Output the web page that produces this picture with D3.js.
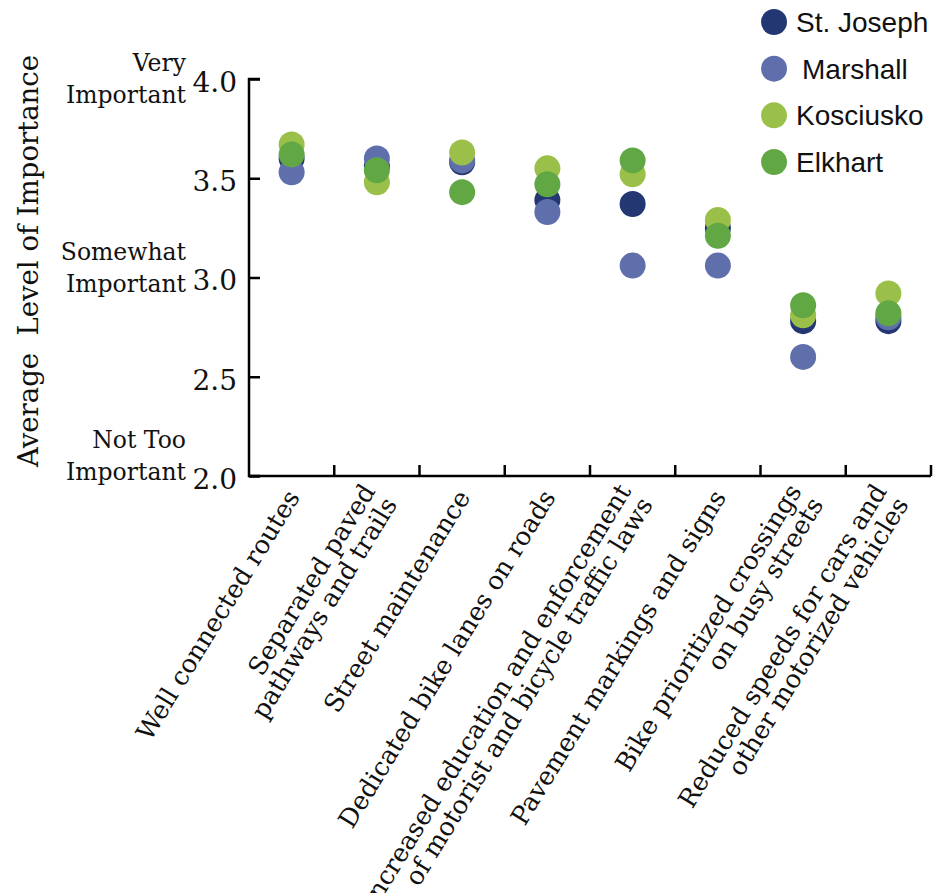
<!DOCTYPE html>
<html>
<head>
<meta charset="utf-8">
<script src="https://cdn.jsdelivr.net/npm/d3@7"></script>
<style>
  html, body { margin: 0; padding: 0; background: #fff; }
  svg { display: block; }
</style>
</head>
<body>
<svg id="chart" width="933" height="893"></svg>
<script>
// ---- data ----
const categories = [
  ["Well connected routes"],
  ["Separated paved", "pathways and trails"],
  ["Street maintenance"],
  ["Dedicated bike lanes on roads"],
  ["Increased education and enforcement", "of motorist and bicycle traffic laws"],
  ["Pavement markings and signs"],
  ["Bike prioritized crossings", "on busy streets"],
  ["Reduced speeds for cars and", "other motorized vehicles"]
];
const seriesNames = ["St. Joseph", "Marshall", "Kosciusko", "Elkhart"];
const stJoseph  = [3.60, 3.56, 3.58, 3.39, 3.37, 3.25, 2.78, 2.78];
const marshall  = [3.53, 3.60, 3.59, 3.33, 3.06, 3.06, 2.60, 2.80];
const kosciusko = [3.67, 3.48, 3.63, 3.55, 3.52, 3.29, 2.81, 2.92];
const elkhart   = [3.62, 3.54, 3.43, 3.47, 3.59, 3.21, 2.86, 2.82];
const seriesValues = [stJoseph, marshall, kosciusko, elkhart];
const colors = ["#233872", "#5f6fab", "#9bc04a", "#61a845"];
const yTicks = [2.0, 2.5, 3.0, 3.5, 4.0];
const yTickLabels = ["2.0", "2.5", "3.0", "3.5", "4.0"];
const levelLabels = [
  { v: 4.0, lines: ["Very", "Important"] },
  { v: 3.0, lines: ["Somewhat", "Important"] },
  { v: 2.0, lines: ["Not Too", "Important"] }
];
const yTitle = "Average\u00A0 Level of Importance";

// ---- layout ----
const svg = d3.select("#chart");
const mLeft = 249, mRight = 931, mTop = 79, mBottom = 476;
const serif = "'DejaVu Serif', serif";
const sans = "'Liberation Sans', Arial, sans-serif";

const x = d3.scaleBand().domain(d3.range(categories.length)).range([mLeft, mRight]).padding(0);
const y = d3.scaleLinear().domain([2, 4]).range([mBottom, mTop]);
// position of the level-label blocks (second line centre)
const yLevel = d3.scaleLinear().domain([2, 4]).range([472, 95]);

// y axis
const yAxis = d3.axisRight(y).tickValues(yTicks).tickSize(11).tickFormat("");
const gy = svg.append("g").attr("transform", `translate(${mLeft},0)`).call(yAxis);
gy.select(".domain").attr("d", `M11,${mTop}H0V${mBottom}H11`);
gy.selectAll("path,line").attr("stroke", "#000").attr("stroke-width", 2.5);

// y tick labels
svg.append("g").selectAll("text").data(yTicks).join("text")
  .attr("x", 237).attr("y", d => y(d) + 3)
  .attr("dy", "0.35em")
  .attr("text-anchor", "end")
  .attr("font-family", serif).attr("font-size", 28)
  .attr("fill", "#111")
  .text((d, i) => yTickLabels[i]);

// level labels
const lv = svg.append("g").selectAll("text").data(levelLabels).join("text")
  .attr("text-anchor", "end")
  .attr("font-family", serif).attr("font-size", 23.5)
  .attr("fill", "#111");
lv.each(function(d) {
  const t = d3.select(this);
  d.lines.forEach((ln, i) => {
    t.append("tspan").attr("x", 186).attr("y", yLevel(d.v) + 8 + (i - 1) * 32).text(ln);
  });
});

// y title
svg.append("text")
  .attr("transform", `translate(38, 261) rotate(-90)`)
  .attr("text-anchor", "middle")
  .attr("font-family", serif).attr("font-size", 27.5)
  .attr("fill", "#111")
  .style("white-space", "pre")
  .text(yTitle);

// x axis
const xTickPos = d3.range(1, categories.length + 1).map(i => x(i - 1) + x.bandwidth());
const gx = svg.append("g");
gx.append("path").attr("d", `M${mLeft},${mBottom}H${mRight}`).attr("stroke", "#000").attr("stroke-width", 2.5).attr("fill", "none");
gx.selectAll("line").data(xTickPos).join("line")
  .attr("x1", d => d).attr("x2", d => d)
  .attr("y1", mBottom).attr("y2", mBottom - 11)
  .attr("stroke", "#000").attr("stroke-width", 2.5);

// x labels
const ang = -58.5;
const fsX = 25.5;
const xl = svg.append("g").selectAll("text").data(categories).join("text")
  .attr("transform", (d, i) => `translate(${x(i) + x.bandwidth() / 2 + 9}, ${mBottom + 21}) rotate(${ang})`)
  .attr("text-anchor", "end")
  .attr("font-family", serif).attr("font-size", fsX)
  .attr("fill", "#111");
xl.each(function(d) {
  const t = d3.select(this);
  const n = d.length;
  d.forEach((ln, i) => {
    const off = n === 1 ? 0 : (i === 0 ? -0.45 : 0.55);
    t.append("tspan").attr("x", 0).attr("y", off * fsX).text(ln);
  });
});

// dots
const pts = [];
seriesValues.forEach((vals, s) => vals.forEach((v, i) => pts.push({ s, i, v })));
svg.append("g").selectAll("circle").data(pts).join("circle")
  .attr("cx", d => x(d.i) + x.bandwidth() / 2)
  .attr("cy", d => y(d.v))
  .attr("r", 13)
  .attr("fill", d => colors[d.s]);

// legend
const ly = d3.scalePoint().domain(seriesNames).range([22, 162]);
const lg = svg.append("g").selectAll("g").data(seriesNames).join("g")
  .attr("transform", d => `translate(774, ${ly(d)})`);
lg.append("circle").attr("r", 13).attr("fill", (d, i) => colors[i]);
lg.append("text")
  .attr("x", (d, i) => i === 1 ? 28 : 22).attr("y", 10)
  .attr("font-family", sans).attr("font-size", 28)
  .attr("fill", "#111")
  .text(d => d);
</script>
</body>
</html>
